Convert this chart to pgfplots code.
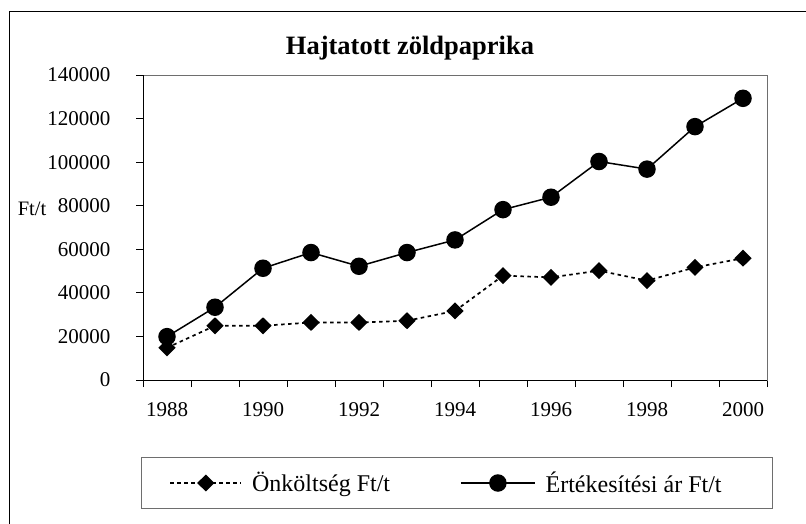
\documentclass[border=0pt]{standalone}
\usepackage{pgfplots}
\pgfplotsset{compat=1.18}
\usepackage{fontspec}
\setmainfont{Liberation Serif}
\definecolor{boxgray}{RGB}{110,110,110}
\pgfplotsset{
  legA/.style={legend image code/.code={\draw[mark repeat=2, mark phase=2, ##1] plot coordinates {(0pt,0pt) (35.5pt,0pt) (71pt,0pt)};}},
  legB/.style={legend image code/.code={\draw[mark repeat=2, mark phase=2, ##1] plot coordinates {(0pt,0pt) (37pt,0pt) (74pt,0pt)};}},
}
\pgfplotstableread{
year cost price
1988 14800 19900
1989 24900 33400
1990 24900 51300
1991 26400 58500
1992 26400 52200
1993 27200 58500
1994 31700 64300
1995 47900 78200
1996 47100 83900
1997 50200 100300
1998 45600 96800
1999 51700 116300
2000 55900 129300
}\datatable
\begin{document}
\begin{tikzpicture}[x=1pt,y=1pt]
\useasboundingbox (0,0) rectangle (806,-524);
\draw[line width=1pt] (9,-524) -- (9,-12) -- (806,-12);
\node[font=\fontsize{26.5}{30}\selectfont\bfseries] at (410,-48.5) {Hajtatott zöldpaprika};
\node[font=\fontsize{20.5}{24}\selectfont] at (32,-209) {Ft/t};
\begin{axis}[
  at={(143pt,-380pt)}, anchor=south west,
  scale only axis, width=624pt, height=305pt,
  xmin=1987.5, xmax=2000.5, ymin=0, ymax=140000,
  clip=false,
  xtick={1987.5,1988.5,1989.5,1990.5,1991.5,1992.5,1993.5,1994.5,1995.5,1996.5,1997.5,1998.5,1999.5,2000.5},
  xticklabels={},
  extra x ticks={1988,1990,1992,1994,1996,1998,2000},
  extra x tick labels={1988,1990,1992,1994,1996,1998,2000},
  extra x tick style={major tick length=0pt, xticklabel style={yshift=-19pt}},
  ytick={0,20000,40000,60000,80000,100000,120000,140000},
  scaled y ticks=false,
  yticklabel style={xshift=-22pt, /pgf/number format/.cd, fixed, set thousands separator={}, assume math mode=true},
  tick align=outside, xtick pos=bottom, ytick pos=left,
  major tick length=7pt,
  every tick/.style={black, line width=0.9pt},
  tick label style={font=\fontsize{21}{24}\selectfont},
  axis line style={draw=boxgray, line width=0.9pt},
  legend columns=2,
  legend cell align=left,
  legend style={at={(0,0)}, anchor=north west, xshift=-2pt, yshift=-77pt,
    draw=boxgray, line width=0.9pt,
    font=\fontsize{24}{28}\selectfont,
    inner xsep=28pt, inner ysep=12.5pt,
    /tikz/every odd column/.append style={column sep=8pt},
    /tikz/every even column/.append style={column sep=68pt}},
]
\addplot[black, line width=1.7pt, dash pattern=on 3.5pt off 3.5pt,
  mark=diamond*, mark size=7.3pt, mark options={solid, xscale=1.35}, legA]
  table[x=year, y=cost] {\datatable};
\addlegendentry{Önköltség Ft/t}
\addplot[black, line width=1.5pt, mark=*, mark size=8pt, mark options={solid}, legB]
  table[x=year, y=price] {\datatable};
\addlegendentry{Értékesítési ár Ft/t\hspace*{21pt}}
\draw[black, line width=1pt] (rel axis cs:0,1) -- (rel axis cs:0,0) -- (rel axis cs:1,0);
\end{axis}
\end{tikzpicture}
\end{document}
